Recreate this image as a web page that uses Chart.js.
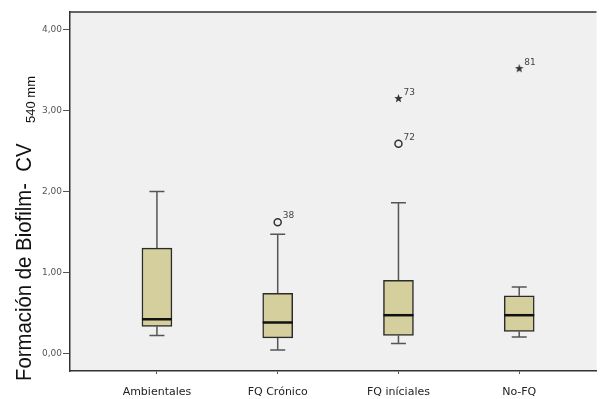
<!DOCTYPE html>
<html>
<head>
<meta charset="utf-8">
<script src="https://cdn.jsdelivr.net/npm/chart.js@4"></script>
<style>
  html, body { margin: 0; padding: 0; background: #fff; }
  #wrap { width: 602px; height: 399px; }
</style>
</head>
<body>
<div id="wrap"><canvas id="chart-box" width="602" height="399"></canvas></div>
<script>
// groups and box statistics
const groups = ['Ambientales', 'FQ Crónico', 'FQ iníciales', 'No-FQ'];
const whiskerLow = [0.22, 0.04, 0.12, 0.20];
const q1 = [0.33, 0.19, 0.22, 0.27];
const median = [0.42, 0.38, 0.47, 0.47];
const q3 = [1.30, 0.74, 0.90, 0.71];
const whiskerHigh = [2.00, 1.47, 1.86, 0.82];

// outliers: group index (1-based), value, case label
const circleOutliers = [
  { x: 2, y: 1.62, label: '38' },
  { x: 3, y: 2.59, label: '72' },
];
const starOutliers = [
  { x: 3, y: 3.15, label: '73' },
  { x: 4, y: 3.52, label: '81' },
];

const yTicks = [0, 1, 2, 3, 4];

const boxFill = '#d4cf9c';
const dark = '#2b2b2b';
const wideFont = '"DejaVu Sans", Verdana, sans-serif';

// filled five-point star used as point style
const makeStar = (size) => {
  const c = document.createElement('canvas');
  c.width = size; c.height = size;
  const g = c.getContext('2d');
  const cx = size / 2, cy = size / 2, ro = size / 2, ri = ro * 0.42;
  g.beginPath();
  for (let i = 0; i < 10; i++) {
    const r = i % 2 === 0 ? ro : ri;
    const a = -Math.PI / 2 + i * Math.PI / 5;
    g.lineTo(cx + r * Math.cos(a), cy + r * Math.sin(a));
  }
  g.closePath();
  g.fillStyle = '#333';
  g.fill();
  return c;
};

const boxPlugin = {
  id: 'boxParts',
  beforeDatasetsDraw(chart) {
    const { ctx, scales: { x, y } } = chart;
    ctx.save();
    ctx.strokeStyle = '#555';
    ctx.lineWidth = 1.5;
    groups.forEach((g, i) => {
      const px = x.getPixelForValue(i + 1);
      const cap = 7.5;
      ctx.beginPath();
      // upper whisker
      ctx.moveTo(px, y.getPixelForValue(q3[i]));
      ctx.lineTo(px, y.getPixelForValue(whiskerHigh[i]));
      ctx.moveTo(px - cap, y.getPixelForValue(whiskerHigh[i]));
      ctx.lineTo(px + cap, y.getPixelForValue(whiskerHigh[i]));
      // lower whisker
      ctx.moveTo(px, y.getPixelForValue(q1[i]));
      ctx.lineTo(px, y.getPixelForValue(whiskerLow[i]));
      ctx.moveTo(px - cap, y.getPixelForValue(whiskerLow[i]));
      ctx.lineTo(px + cap, y.getPixelForValue(whiskerLow[i]));
      ctx.stroke();
    });
    ctx.restore();
  },
  afterDatasetsDraw(chart) {
    const { ctx, scales: { x, y } } = chart;
    ctx.save();
    ctx.strokeStyle = '#111';
    ctx.lineWidth = 2.5;
    groups.forEach((g, i) => {
      const px = x.getPixelForValue(i + 1);
      const py = y.getPixelForValue(median[i]);
      ctx.beginPath();
      ctx.moveTo(px - 15, py);
      ctx.lineTo(px + 15, py);
      ctx.stroke();
    });
    // case labels next to outliers
    ctx.fillStyle = '#444';
    ctx.font = '9px ' + wideFont;
    [...circleOutliers, ...starOutliers].forEach((p) => {
      ctx.fillText(p.label, x.getPixelForValue(p.x) + 5, y.getPixelForValue(p.y) - 4);
    });
    ctx.restore();
  },
  beforeDraw(chart) {
    const { ctx, chartArea: a } = chart;
    ctx.save();
    ctx.fillStyle = '#f0f0f0';
    ctx.fillRect(a.left, a.top, a.right - a.left, a.bottom - a.top);
    ctx.strokeStyle = '#333';
    ctx.lineWidth = 1.5;
    ctx.beginPath();
    ctx.moveTo(a.left, a.top);
    ctx.lineTo(a.right, a.top);
    ctx.stroke();
    ctx.restore();
  },
  afterDraw(chart) {
    const { ctx } = chart;
    ctx.save();
    ctx.translate(31, 381);
    ctx.rotate(-Math.PI / 2);
    ctx.fillStyle = '#111';
    ctx.save();
    ctx.scale(0.925, 1);
    ctx.font = '22px "Liberation Sans", Arial, sans-serif';
    ctx.fillText('Formación de Biofilm-  CV', 0, 0);
    ctx.restore();
    ctx.font = '13px "Liberation Sans", Arial, sans-serif';
    ctx.fillText('540 mm', 258, 4);
    ctx.restore();
  },
};

const ctx = document.getElementById('chart-box').getContext('2d');
new Chart(ctx, {
  type: 'bar',
  data: {
    datasets: [
      {
        type: 'bar',
        data: groups.map((g, i) => ({ x: i + 1, y: [q1[i], q3[i]] })),
        backgroundColor: boxFill,
        borderColor: dark,
        borderWidth: 1.5,
        borderSkipped: false,
        barThickness: 30,
        order: 2,
      },
      {
        type: 'scatter',
        data: circleOutliers,
        pointStyle: 'circle',
        pointRadius: 3.5,
        backgroundColor: '#f0f0f0',
        borderColor: '#333',
        borderWidth: 1.5,
        order: 1,
      },
      {
        type: 'scatter',
        data: starOutliers,
        pointStyle: makeStar(9),
        order: 1,
      },
    ],
  },
  options: {
    responsive: false,
    animation: false,
    layout: { padding: { top: 12, right: 0, left: 0, bottom: 0 } },
    plugins: { legend: { display: false }, tooltip: { enabled: false } },
    scales: {
      x: {
        type: 'linear',
        offset: false,
        min: 0.28,
        max: 4.64,
        afterBuildTicks: (scale) => { scale.ticks = groups.map((g, i) => ({ value: i + 1 })); },
        afterFit: (scale) => { scale.height = 28; scale.paddingRight = 0; },
        ticks: {
          callback: (v) => groups[v - 1] ?? '',
          color: '#222',
          font: { size: 11, family: wideFont },
          padding: 12,
          maxRotation: 0,
        },
        grid: { drawOnChartArea: false, offset: false, tickLength: 3, color: '#555' },
        border: { color: '#333', width: 1.5 },
      },
      y: {
        min: -0.22,
        max: 4.22,
        afterBuildTicks: (scale) => { scale.ticks = yTicks.map((v) => ({ value: v })); },
        afterFit: (scale) => { scale.width = 70; },
        ticks: {
          callback: (v) => v.toFixed(2).replace('.', ','),
          color: '#555',
          font: { size: 9, family: wideFont },
          padding: 1,
        },
        grid: { drawOnChartArea: false, tickLength: 7, color: '#555' },
        border: { color: '#333', width: 1.5 },
      },
    },
  },
  plugins: [boxPlugin],
});
</script>
</body>
</html>
